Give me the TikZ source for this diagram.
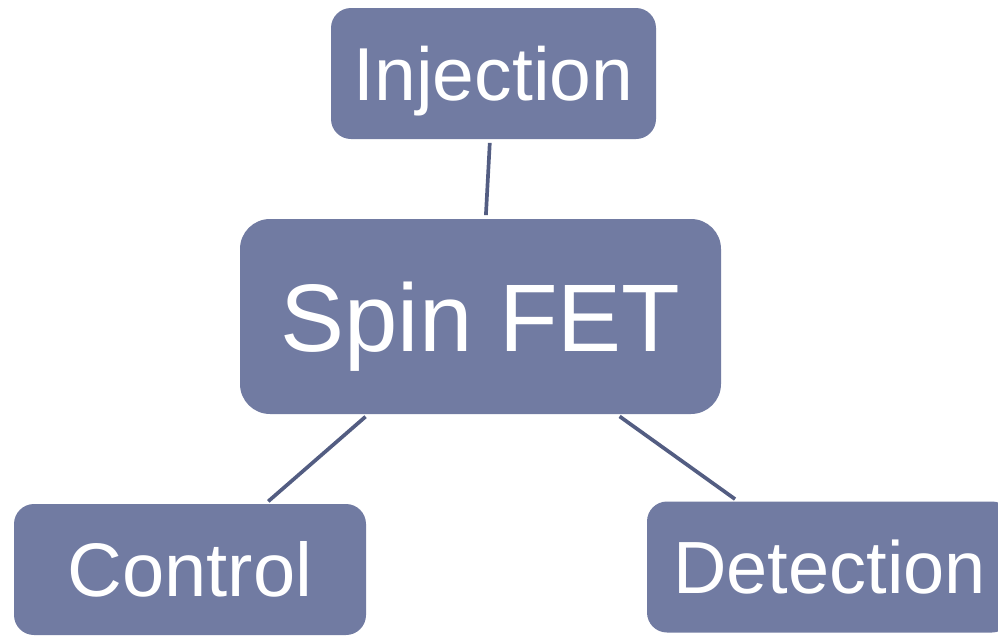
\documentclass[tikz,border=0pt]{standalone}
\usepackage{fontspec}
\setmainfont{Liberation Sans}
\usetikzlibrary{positioning}
\definecolor{boxfill}{HTML}{717BA2}
\definecolor{linkcol}{HTML}{535D82}
\tikzset{
block/.style={fill=boxfill, text=white, rounded corners=0.4cm, inner sep=0pt,
  text depth=0pt}, % the filled boxes, caps centred
small block/.style={block, minimum height=2.62cm}, % the three outer boxes
link/.style={draw=linkcol, line width=2.1pt, shorten >=2pt, shorten <=2pt}, % plain connectors
}
\begin{document}
\begin{tikzpicture}
    \useasboundingbox (0,0) rectangle (19.96,-12.72);
    \node[block, rounded corners=0.6cm, minimum width=9.62cm, minimum height=3.9cm,
      font=\fontsize{54.6}{60}\selectfont, text height=39.3pt] (spin) at (9.61,-6.33) {Spin FET};
    \node[small block, minimum width=6.5cm, font=\fontsize{42.7}{48}\selectfont,
      text height=30.7pt] (inj) at (9.87,-1.47) {Injection};
    \node[small block, minimum width=7.04cm, font=\fontsize{43.2}{48}\selectfont,
      text height=31.2pt] (ctrl) at (3.8,-11.39) {Control};
    \node[small block, minimum width=7.3cm, font=\fontsize{42.1}{48}\selectfont,
      text height=30.2pt] (det) at (16.59,-11.34) {Detection};
    \draw[link] (inj) -- (spin);
    \draw[link] (spin) -- (ctrl);
    \draw[link] (spin) -- (det);
  \end{tikzpicture}
\end{document}
